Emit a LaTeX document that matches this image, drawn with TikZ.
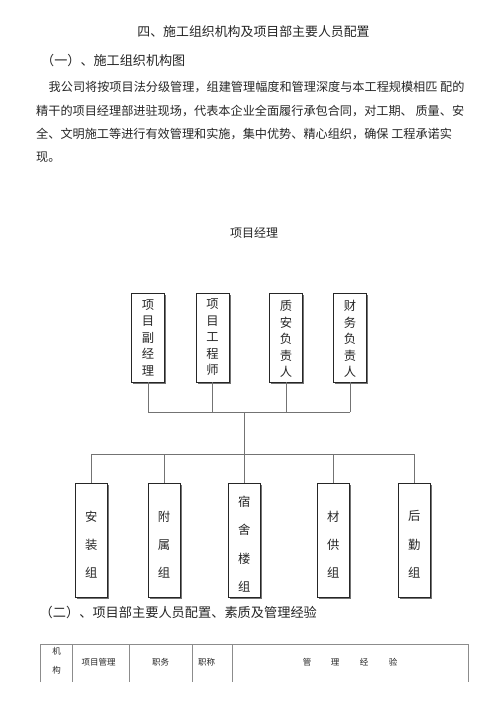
\documentclass[tikz,border=0pt]{standalone}
\usepackage{fontspec}
\setmainfont{Noto Sans CJK SC}
\usetikzlibrary{shadows}
\begin{document}
\begin{tikzpicture}[x=1pt,y=-1pt,
  txt/.style={inner sep=0pt, text=black!85},
  ttl/.style={txt, font=\fontsize{12.9}{14}\selectfont},
  para/.style={txt, anchor=west, font=\fontsize{12.15}{14}\selectfont},
  orgbox/.style={draw=black!85, line width=0.9pt, fill=white, inner sep=0pt,
    drop shadow={shadow xshift=1.6pt, shadow yshift=-1.6pt, fill=black!55, opacity=1}},
  topbox/.style={orgbox, minimum width=33pt, minimum height=89pt},
  lowbox/.style={orgbox, minimum width=32pt, minimum height=114pt},
  toptext/.style={txt, align=center, font=\fontsize{12.3}{16.5}\selectfont},
  lowtext/.style={txt, align=center, font=\fontsize{12.3}{28.3}\selectfont},
  conn/.style={draw=black!55, line width=0.9pt},
  tabline/.style={draw=black!45, line width=0.7pt},
  tabtext/.style={txt, font=\fontsize{8.5}{10}\selectfont}]

\useasboundingbox (0,0) rectangle (500,712);
\fill[white] (0,0) rectangle (500,712);

% headings and paragraph
\node[ttl] (title) at (253.5,31.5) {四、施工组织机构及项目部主要人员配置};
\node[ttl, anchor=west, font=\fontsize{13.1}{14}\selectfont] (sec1) at (41,61) {（一）、施工组织机构图};
\node[para] (p1) at (48.5,87) {我公司将按项目法分级管理，组建管理幅度和管理深度与本工程规模相匹 配的};
\node[para] (p2) at (36,110.5) {精干的项目经理部进驻现场，代表本企业全面履行承包合同，对工期、 质量、安};
\node[para] (p3) at (36,134.3) {全、文明施工等进行有效管理和实施，集中优势、精心组织，确保 工程承诺实};
\node[para] (p4) at (36,157.5) {现。};

% org chart
\node[txt, font=\fontsize{12}{14}\selectfont] (pm) at (254,233) {项目经理};

\node[topbox] (a1) at (148,337.5) {};
\node[topbox] (a2) at (212.5,337.5) {};
\node[topbox] (a3) at (286,337.5) {};
\node[topbox] (a4) at (350,337.5) {};
\node[toptext] (ta1) at (a1.center) {项\\目\\副\\经\\理};
\node[toptext] (ta2) at (a2.center) {项\\目\\工\\程\\师};
\node[toptext] (ta3) at ([yshift=-1.5pt]a3.center) {质\\安\\负\\责\\人};
\node[toptext] (ta4) at ([yshift=-1.5pt]a4.center) {财\\务\\负\\责\\人};

\node[lowbox] (c1) at (91.2,540) {};
\node[lowbox] (c2) at (164,540) {};
\node[lowbox] (c3) at (244.3,540) {};
\node[lowbox] (c4) at (333.3,540) {};
\node[lowbox] (c5) at (414.3,540) {};
\node[lowtext] (tc1) at ([yshift=-4.5pt]c1.center) {安\\装\\组};
\node[lowtext] (tc2) at ([yshift=-4.5pt]c2.center) {附\\属\\组};
\node[lowtext] (tc3) at ([yshift=-4pt]c3.center) {宿\\舍\\楼\\组};
\node[lowtext] (tc4) at ([yshift=-4.5pt]c4.center) {材\\供\\组};
\node[lowtext] (tc5) at ([yshift=-4.5pt]c5.center) {后\\勤\\组};

\coordinate (bustop) at (0,412);
\coordinate (buslow) at (0,454);
\coordinate (hub) at (244.3,412);

\draw[conn] (a1.south |- bustop) -- (a4.south |- bustop);
\foreach \b in {a1,a2,a3,a4} \draw[conn] (\b.south) -- (\b.south |- bustop);
\draw[conn] (hub) -- (c3.north);
\draw[conn] (c1.north |- buslow) -- (c5.north |- buslow);
\foreach \b in {c1,c2,c4,c5} \draw[conn] (\b.north |- buslow) -- (\b.north);

% section 2
\node[ttl, anchor=west, font=\fontsize{13.2}{14}\selectfont] (sec2) at (39.5,612) {（二）、项目部主要人员配置、素质及管理经验};

% table
\draw[tabline] (40.7,682) -- (40.7,644) -- (468.3,644) -- (468.3,682);
\foreach \x in {72.7,129.3,192.7,232.7} \draw[tabline] (\x,644) -- (\x,682);
\node[tabtext] (k1) at (56.7,651.7) {机};
\node[tabtext] (k2) at (56.7,670) {构};
\node[tabtext] (k3) at (98.5,662.5) {项目管理};
\node[tabtext] (k4) at (160.7,662.5) {职务};
\node[tabtext] (k5) at (206.7,662.5) {职称};
\node[tabtext] (k6) at (307,662.5) {管};
\node[tabtext] (k7) at (335,662.5) {理};
\node[tabtext] (k8) at (364,662.5) {经};
\node[tabtext] (k9) at (393,662.5) {验};
\end{tikzpicture}
\end{document}
